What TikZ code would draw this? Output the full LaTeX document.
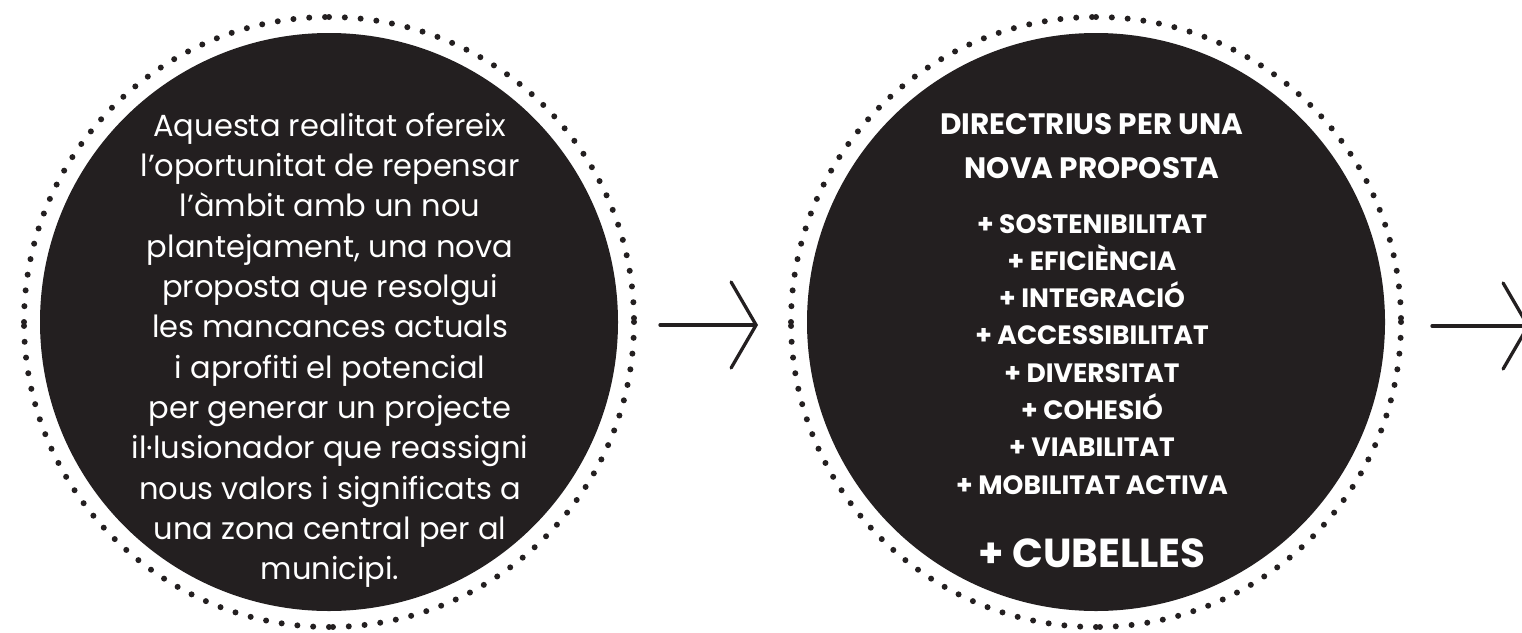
\documentclass[tikz,border=0pt]{standalone}
\usepackage{fontspec}
\setmainfont{Poppins}
\usetikzlibrary{arrows.meta}
\definecolor{ink}{HTML}{231F20}
\begin{document}
\begin{tikzpicture}[x=1pt,y=-1pt,
  disc/.style={circle,fill=ink,inner sep=0pt,outer sep=0pt,minimum size=578pt},
  dotring/.style={draw=ink,line width=6pt,line cap=round,dash pattern=on 0pt off 15.84pt},
  bodytext/.style={text=white,font=\fontsize{30.5}{34}\selectfont,anchor=base,inner sep=0pt},
  headtext/.style={text=white,font=\bfseries\fontsize{29.5}{32}\selectfont,anchor=base,inner sep=0pt},
  listtext/.style={text=white,font=\bfseries\fontsize{26.5}{30}\selectfont,anchor=base,inner sep=0pt},
  bigtext/.style={text=white,font=\bfseries\fontsize{40.5}{44}\selectfont,anchor=base,inner sep=0pt},
  flow/.style={draw=ink,line width=3.3pt,line cap=round,-{Straight Barb[length=25pt,width=86pt,line cap=round]}}
]
\path[use as bounding box] (0,0) rectangle (1522,632);
\clip (0,0) rectangle (1522,632);
\node[disc] (c1) at (329,322) {};
\node[disc] (c2) at (1096,322) {};
\foreach \c in {c1,c2}
  \foreach \a in {0,90,180,270}
    \draw[dotring] (\c.center) ++(\a:305) arc[start angle=\a,delta angle=90,radius=305];
% left text
\foreach \t [count=\i] in {
  {Aquesta realitat ofereix},
  {l’oportunitat de repensar},
  {l’àmbit amb un nou},
  {plantejament, una nova},
  {proposta que resolgui},
  {les mancances actuals},
  {i aprofiti el potencial},
  {per generar un projecte},
  {il·lusionador que reassigni},
  {nous valors i significats a},
  {una zona central per al},
  {municipi.}}
  \node[bodytext] (L\i) at (330,{136+40.36*(\i-1)}) {\t};
% right text
\node[headtext] (h1) at (1092,134) {DIRECTRIUS PER UNA};
\node[headtext] (h2) at (1092,178) {NOVA PROPOSTA};
\foreach \t [count=\i] in {
  {+ SOSTENIBILITAT},
  {+ EFICIÈNCIA},
  {+ INTEGRACIÓ},
  {+ ACCESSIBILITAT},
  {+ DIVERSITAT},
  {+ COHESIÓ},
  {+ VIABILITAT},
  {+ MOBILITAT ACTIVA}}
  \node[listtext] (R\i) at (1092,{233+37.3*(\i-1)}) {\t};
\node[bigtext] (cub) at (1092,567) {+ CUBELLES};
% arrows
\coordinate (a1s) at ([xshift=42pt,yshift=-3pt]c1.east);
\coordinate (a1e) at ([xshift=-49pt,yshift=-3pt]c2.west);
\coordinate (a2s) at ([xshift=47pt,yshift=-4pt]c2.east);
\coordinate (a2e) at ([xshift=145pt,yshift=-4pt]c2.east);
\draw[flow] (a1s) -- (a1e);
\draw[flow] (a2s) -- (a2e);
\end{tikzpicture}
\end{document}
